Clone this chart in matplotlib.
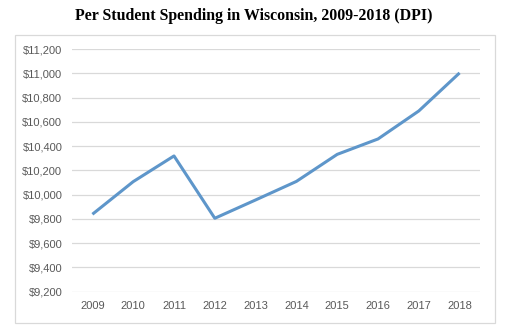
import matplotlib

matplotlib.use("Agg")
import matplotlib.pyplot as plt
from matplotlib.patches import Rectangle
from matplotlib.ticker import FuncFormatter

years = ["2009", "2010", "2011", "2012", "2013", "2014", "2015", "2016", "2017", "2018"]
spending = [9837, 10106, 10318, 9804, 9955, 10108, 10331, 10458, 10689, 11003]
y_ticks = list(range(9200, 11201, 200))

LINE_COLOR = "#5e96ca"
GRID_COLOR = "#d9d9d9"
TEXT_COLOR = "#595959"

W, H = 517, 335
fig = plt.figure(figsize=(W / 100, H / 100), dpi=100)

# outer chart frame
fig.patches.append(
    Rectangle((15 / W, 1 - 323 / H), (495 - 15) / W, (323 - 35) / H,
              transform=fig.transFigure, fill=False, edgecolor=GRID_COLOR, linewidth=0.9)
)

fig.text(254 / W, 1 - 16 / H, "Per Student Spending in Wisconsin, 2009-2018 (DPI)",
         ha="center", va="center", family="Liberation Serif", fontweight="bold", fontsize=11.4)

left, right = 72 / W, 480 / W
top, bottom = 1 - 49 / H, 1 - 291.5 / H
ax = fig.add_axes([left, bottom, right - left, top - bottom])

x = range(len(years))
ax.plot(x, spending, color=LINE_COLOR, linewidth=2.2, solid_capstyle="butt")

ax.set_xlim(-0.5, len(years) - 0.5)
ax.set_ylim(y_ticks[0], y_ticks[-1])
ax.set_yticks(y_ticks)
ax.yaxis.set_major_formatter(FuncFormatter(lambda v, _: f"${v:,.0f}"))
ax.set_xticks(list(x))
ax.set_xticklabels(years)

for v in y_ticks:
    ax.axhline(v, color=GRID_COLOR, linewidth=0.9, zorder=0)

for s in ax.spines.values():
    s.set_visible(False)
ax.tick_params(length=0, labelsize=8, labelcolor=TEXT_COLOR)
ax.tick_params(axis="y", pad=7)
ax.tick_params(axis="x", pad=7)
for lbl in ax.get_xticklabels() + ax.get_yticklabels():
    lbl.set_family("Liberation Sans")

fig.savefig("out.png", dpi=100)
